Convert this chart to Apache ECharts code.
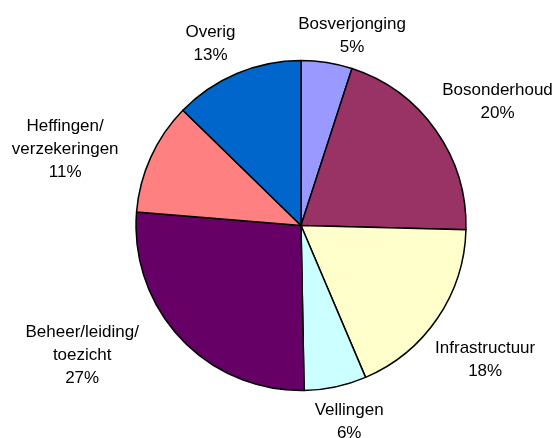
<!DOCTYPE html>
<html>
<head>
<meta charset="utf-8">
<script src="https://cdn.jsdelivr.net/npm/echarts@6/dist/echarts.min.js"></script>
<style>
html, body { margin: 0; padding: 0; background: #fff; }
#main { width: 555px; height: 438px; }
</style>
</head>
<body>
<div id="main"></div>
<script>
// slices, clockwise from 12 o'clock
const categories = ['Bosverjonging', 'Bosonderhoud', 'Infrastructuur', 'Vellingen',
    'Beheer/leiding/\ntoezicht', 'Heffingen/\nverzekeringen', 'Overig'];
const values = [5.0, 20.4, 18.2, 6.1, 26.6, 11.0, 12.7];
const colors = ['#9999FF', '#993366', '#FFFFCC', '#CCFFFF', '#660066', '#FF8080', '#0066CC'];

const cx = 301, cy = 225.5, radius = 165, gap = 8;
// the labels were moved by hand in the original
const labelShift = [[3, 4], [0, -1], [-9, 14], [-6, 4], [-36, -23], [-25, 30], [1, 1]];
const total = values.reduce((a, b) => a + b, 0);

function midAngle(i) {
    let s = 0;
    for (let k = 0; k < i; k++) s += values[k];
    return (s + values[i] / 2) / total * 2 * Math.PI;
}
function clamp(v) {
    return Math.max(-1, Math.min(1, v));
}

let myChart = echarts.init(document.getElementById('main'));
myChart.setOption({
    animation: false,
    color: colors,
    series: [{
        type: 'pie',
        center: [cx, cy],
        radius: radius,
        startAngle: 90,
        clockwise: true,
        percentPrecision: 0,
        avoidLabelOverlap: false,
        data: categories.map((name, i) => ({name: name, value: values[i]})),
        itemStyle: {
            borderColor: '#000',
            borderWidth: 1.5
        },
        label: {
            show: true,
            position: 'outside',
            formatter: '{b}\n{d}%',
            fontFamily: "'Liberation Sans', Arial, sans-serif",
            fontSize: 17,
            lineHeight: 23,
            color: '#000'
        },
        labelLine: {show: false},
        emphasis: {disabled: true},
        // put each label just outside its slice, text centred
        labelLayout: function (p) {
            const i = p.dataIndex;
            const a = midAngle(i);
            const s = Math.sin(a), c = Math.cos(a);
            const w = p.labelRect.width, h = p.labelRect.height;
            const d = radius + gap;
            return {
                x: cx + d * s + w / 2 * clamp(2.5 * s) + labelShift[i][0],
                y: cy - d * c - h / 2 * clamp(2.5 * c) + labelShift[i][1],
                align: 'center',
                verticalAlign: 'middle'
            };
        }
    }]
});
</script>
</body>
</html>
